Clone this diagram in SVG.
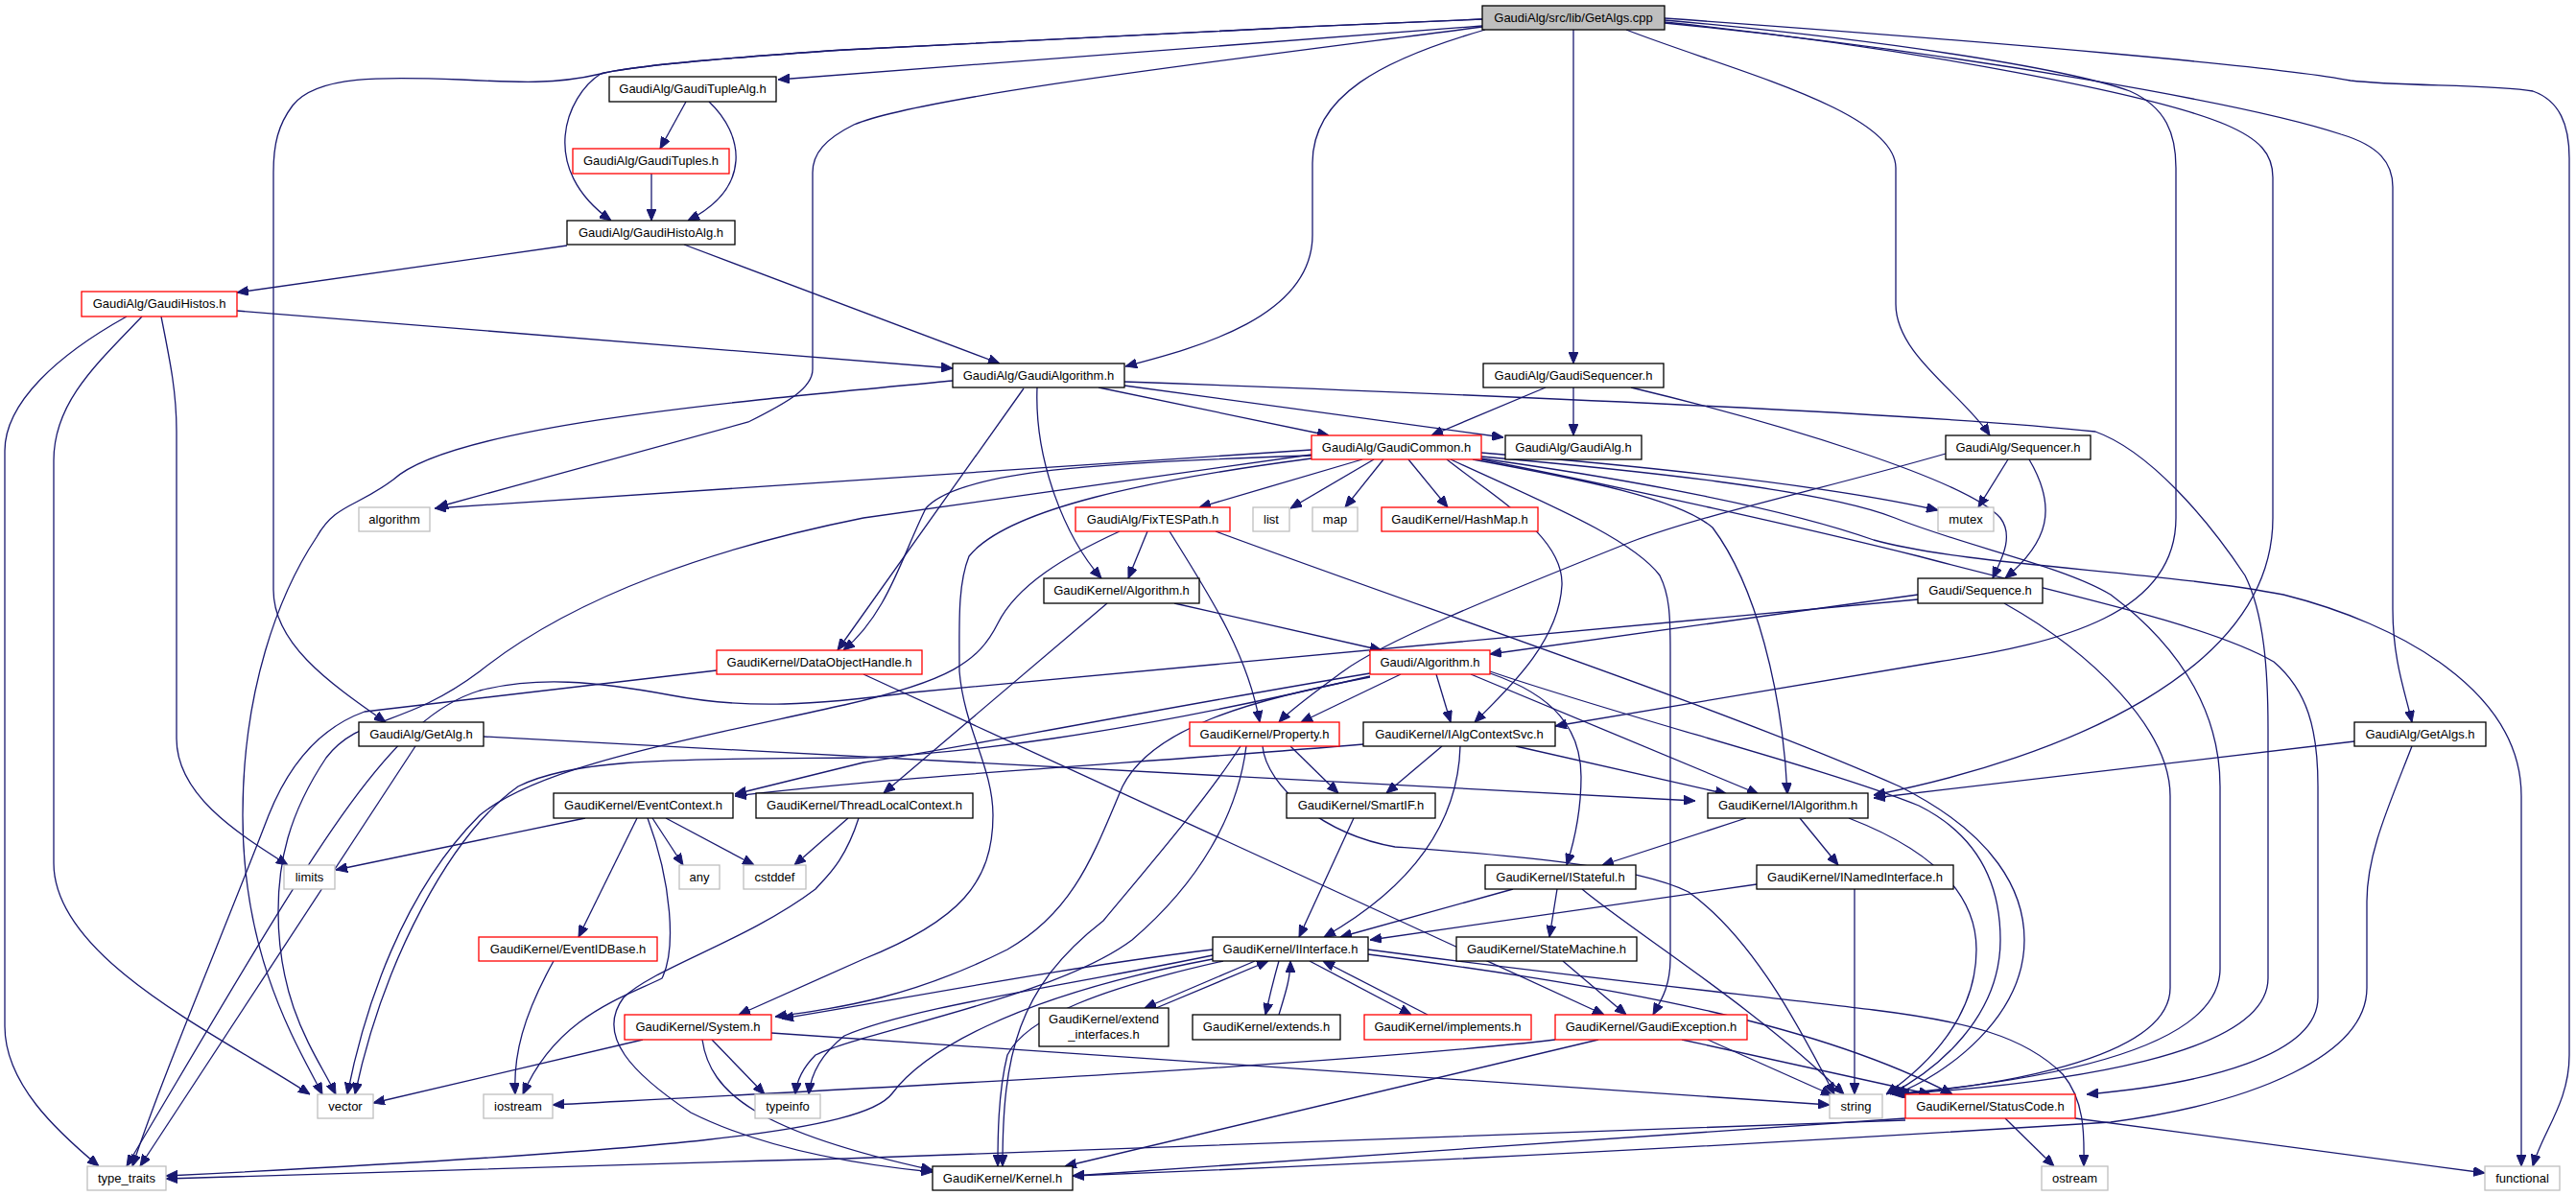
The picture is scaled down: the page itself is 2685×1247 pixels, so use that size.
<svg xmlns="http://www.w3.org/2000/svg" width="2685" height="1247" viewBox="0 0 2685 1247">
<style>
.n rect{fill:#fff;stroke:#000;stroke-width:1.3}
.n.red rect{stroke:#ff0000}
.n.sys rect{stroke:#bfbfbf}
.n.root rect{fill:#bfbfbf}
.n text{font-family:"Liberation Sans",Arial,sans-serif;font-size:13px;text-anchor:middle;fill:#000}
#edges path{fill:none;stroke:#191970;stroke-width:1.3;marker-end:url(#arr)}
</style>
<defs>
<marker id="arr" markerUnits="userSpaceOnUse" markerWidth="12" markerHeight="10" viewBox="0 0 12 10" refX="12" refY="5" orient="auto">
<path d="M0,0 L12,5 L0,10 z" fill="#191970" stroke="#191970"/>
</marker>
</defs>
<rect width="2685" height="1247" fill="#fff"/>
<g id="edges">
<path d="M1545,27 L811,83"/>
<path d="M1545,20 C1300,30 1000,45 880,52 C760,60 660,68 626,77 C590,100 560,175 637,230"/>
<path d="M1545,20 C1300,30 1000,45 880,52 C760,60 660,68 626,77 C580,88 540,86 480,83 C400,80 330,78 305,110 C290,130 285,150 285,180 L285,615 C285,670 340,710 402,753"/>
<path d="M1545,28 C1300,60 960,100 890,130 C860,145 847,160 847,180 L847,385 C847,405 820,420 780,440 L455,529"/>
<path d="M1548,31 C1440,62 1368,100 1368,170 L1368,245 C1368,330 1250,362 1173,382"/>
<path d="M1640,31 L1640,379"/>
<path d="M1695,31 C1800,72 1976,115 1976,175 L1976,317 C1976,370 2045,410 2074,454"/>
<path d="M1735,21 C1950,40 2150,70 2220,95 C2258,112 2268,140 2268,175 L2268,540 C2268,640 2150,670 2020,690 L1621,757"/>
<path d="M1735,23 C2000,50 2250,100 2320,130 C2355,145 2369,160 2369,185 L2369,540 C2369,700 2150,790 1953,829"/>
<path d="M1735,24 C2050,55 2350,110 2440,140 C2480,152 2494,170 2494,195 L2494,635 C2494,690 2508,725 2514,753"/>
<path d="M1735,19 C2100,45 2380,70 2450,84 C2500,90 2600,88 2640,95 C2668,105 2678,130 2678,165 L2678,1100 C2678,1150 2650,1180 2640,1216"/>
<path d="M715,106 L688,155"/>
<path d="M739,106 C775,140 785,195 717,230"/>
<path d="M679,181 L679,230"/>
<path d="M591,256 L247,305"/>
<path d="M713,255 L1042,379"/>
<path d="M247,324 L993,384"/>
<path d="M132,330 C60,370 5,420 5,470 L5,1070 C5,1130 60,1180 103,1216"/>
<path d="M148,330 C100,380 56,420 56,480 L56,900 C56,1000 230,1080 323,1141"/>
<path d="M168,330 C178,380 184,410 184,450 L184,770 C184,830 250,870 300,902"/>
<path d="M1145,404 L1385,454"/>
<path d="M1172,402 L1567,456"/>
<path d="M1081,404 C1078,480 1110,560 1148,603"/>
<path d="M1067,405 L873,678"/>
<path d="M993,397 C750,420 470,445 410,500 C370,530 350,525 330,560 C290,620 253,720 253,850 C253,1000 310,1090 336,1141"/>
<path d="M1172,398 C1500,410 2000,430 2184,450 C2240,470 2300,540 2340,600 C2360,640 2364,700 2364,760 L2364,1020 C2364,1100 2150,1130 1975,1141"/>
<path d="M1611,404 L1492,454"/>
<path d="M1640,404 L1640,454"/>
<path d="M1700,404 C1850,440 2050,500 2085,540 C2100,560 2085,585 2077,603"/>
<path d="M1367,469 L453,530"/>
<path d="M1367,474 L900,540 C750,570 600,620 500,700 C420,760 375,745 340,790 C300,850 290,900 290,950 C290,1050 330,1100 350,1141"/>
<path d="M1367,475 C1150,482 1000,490 965,530 C940,580 925,640 879,678"/>
<path d="M1367,478 C1200,500 1050,530 1010,580 C998,610 1000,650 1000,700 C1005,760 1035,800 1035,850 C1035,920 1000,960 900,1000 L770,1058"/>
<path d="M1420,479 L1250,529"/>
<path d="M1432,479 L1345,530"/>
<path d="M1442,479 L1402,529"/>
<path d="M1468,479 L1509,529"/>
<path d="M1508,479 C1560,520 1630,560 1628,610 C1625,670 1570,720 1537,753"/>
<path d="M1512,479 C1600,520 1700,560 1730,600 C1740,620 1741,640 1741,680 L1741,1000 C1741,1030 1730,1045 1723,1058"/>
<path d="M1544,472 C1700,485 1900,505 2020,532"/>
<path d="M1544,476 C1700,490 1900,510 1975,540 C2050,570 2150,590 2200,620 C2280,680 2314,750 2314,820 L2314,1010 C2314,1090 2150,1125 1972,1141"/>
<path d="M1544,478 C1700,500 1860,530 1953,563 C2050,590 2250,595 2380,620 C2500,650 2628,720 2628,830 L2628,1216"/>
<path d="M1544,479 C1700,510 1880,550 2000,580 C2150,620 2300,650 2370,690 C2405,720 2416,760 2416,820 L2416,1040 C2416,1100 2300,1130 2175,1141"/>
<path d="M1535,479 C1650,500 1750,520 1785,550 C1830,610 1858,720 1863,828"/>
<path d="M1196,554 L1176,603"/>
<path d="M1219,554 C1260,620 1300,680 1313,753"/>
<path d="M1167,554 C1110,580 1060,610 1040,650 C1020,690 990,710 880,735 C700,775 560,800 500,850 C420,930 380,1050 362,1141"/>
<path d="M1267,554 C1500,640 1800,740 1980,820 C2080,870 2110,930 2110,980 C2110,1060 2030,1120 1975,1141"/>
<path d="M1224,629 L1440,678"/>
<path d="M1154,629 L921,827"/>
<path d="M1999,620 L1553,682"/>
<path d="M1999,625 L950,722 C850,735 780,740 700,725 C620,710 560,705 500,720 C400,750 320,900 132,1216"/>
<path d="M2089,629 C2180,680 2262,760 2262,830 L2262,1030 C2262,1100 2100,1130 1978,1141"/>
<path d="M2093,479 L2062,529"/>
<path d="M2115,479 C2145,530 2135,565 2090,603"/>
<path d="M2028,473 C1900,510 1780,535 1700,565 C1550,625 1440,670 1400,700 C1370,722 1345,740 1333,753"/>
<path d="M900,703 L1672,1058"/>
<path d="M747,699 L380,742 C330,760 300,800 280,850 C230,980 170,1120 138,1216"/>
<path d="M1460,703 L1356,753"/>
<path d="M1497,703 L1512,753"/>
<path d="M1533,703 L1833,828"/>
<path d="M1553,700 C1700,750 1900,800 2000,840 C2060,870 2085,920 2085,980 C2085,1060 2020,1115 1970,1141"/>
<path d="M1553,702 C1620,725 1648,760 1648,810 C1648,850 1640,880 1633,902"/>
<path d="M1428,702 C1200,740 1000,780 900,795 L766,828"/>
<path d="M1428,705 C1150,770 1000,785 900,790 C700,792 600,790 540,820 C470,870 400,1000 370,1141"/>
<path d="M1428,706 C1300,730 1200,760 1170,820 C1140,890 1120,950 1050,990 C950,1040 880,1050 808,1060"/>
<path d="M1345,778 L1395,827"/>
<path d="M1316,778 C1320,820 1380,870 1454,883 C1550,890 1700,900 1760,930 C1830,980 1880,1080 1912,1141"/>
<path d="M1299,778 C1290,850 1250,920 1180,980 C1100,1040 900,1075 850,1100 C835,1115 830,1130 829,1141"/>
<path d="M1293,778 C1260,830 1200,900 1150,960 C1060,1030 1045,1100 1045,1216"/>
<path d="M1421,776 C1200,795 950,808 766,830"/>
<path d="M1503,778 L1445,827"/>
<path d="M1522,778 C1520,850 1480,920 1380,977"/>
<path d="M1580,778 L1800,828"/>
<path d="M504,768 L1767,835"/>
<path d="M433,778 L146,1216"/>
<path d="M2454,773 L1953,832"/>
<path d="M2514,778 C2490,840 2467,890 2467,940 L2467,1030 C2467,1100 2350,1150 2200,1170 C1800,1195 1400,1215 1118,1226"/>
<path d="M610,853 L350,907"/>
<path d="M680,853 L712,902"/>
<path d="M694,853 L786,902"/>
<path d="M664,853 L603,977"/>
<path d="M675,853 C700,920 705,990 690,1020 C650,1040 580,1060 545,1141"/>
<path d="M884,853 L828,902"/>
<path d="M895,853 C880,900 860,915 850,927 C780,980 680,1010 650,1040 C620,1080 660,1120 720,1160 C800,1200 900,1215 972,1222"/>
<path d="M1411,853 L1354,977"/>
<path d="M1820,853 L1670,902"/>
<path d="M1876,853 L1916,902"/>
<path d="M1927,853 C2010,885 2060,930 2060,990 C2060,1060 2010,1110 1966,1141"/>
<path d="M1577,927 L1397,977"/>
<path d="M1623,927 L1615,977"/>
<path d="M1649,927 C1700,970 1830,1050 1922,1141"/>
<path d="M1831,922 L1428,980"/>
<path d="M1933,927 L1933,1141"/>
<path d="M577,1002 C545,1060 535,1100 537,1141"/>
<path d="M1308,1002 L1193,1051"/>
<path d="M1205,1051 L1322,1002"/>
<path d="M1333,1002 C1325,1030 1322,1045 1319,1058"/>
<path d="M1333,1058 C1340,1035 1345,1020 1345,1002"/>
<path d="M1365,1002 L1471,1058"/>
<path d="M1488,1058 L1379,1002"/>
<path d="M1264,990 C1100,1010 950,1040 815,1062"/>
<path d="M1264,996 C1100,1030 950,1050 880,1080 C855,1100 845,1120 843,1141"/>
<path d="M1275,1002 C1150,1030 1070,1060 1050,1100 C1040,1140 1040,1190 1040,1216"/>
<path d="M1264,1000 C1050,1040 960,1100 930,1140 C900,1180 700,1200 173,1226"/>
<path d="M1426,995 C1700,1030 1900,1070 2035,1141"/>
<path d="M1426,990 C1650,1020 1850,1040 1953,1053 C2050,1065 2110,1080 2150,1120 C2175,1150 2172,1190 2172,1216"/>
<path d="M1629,1002 L1695,1058"/>
<path d="M670,1084 L389,1150"/>
<path d="M742,1084 L797,1141"/>
<path d="M804,1077 L1907,1152"/>
<path d="M732,1084 C740,1140 790,1180 972,1220"/>
<path d="M1621,1084 C1400,1110 900,1135 576,1152"/>
<path d="M1666,1084 L1110,1216"/>
<path d="M1780,1084 L1910,1142"/>
<path d="M1753,1084 L2012,1141"/>
<path d="M2090,1166 L2141,1216"/>
<path d="M2163,1166 L2590,1223"/>
<path d="M1986,1166 L1118,1226"/>
<path d="M1986,1168 C1500,1185 1000,1205 880,1208 C600,1215 300,1225 173,1229"/>
</g>
<g id="n_root" class="n root"><rect x="1545" y="6" width="190" height="25"/><text x="1640" y="23">GaudiAlg/src/lib/GetAlgs.cpp</text></g>
<g id="n_tuplealg" class="n"><rect x="635" y="80" width="174" height="26"/><text x="722" y="97">GaudiAlg/GaudiTupleAlg.h</text></g>
<g id="n_tuples" class="n red"><rect x="597" y="155" width="163" height="26"/><text x="678.5" y="172">GaudiAlg/GaudiTuples.h</text></g>
<g id="n_histoalg" class="n"><rect x="591" y="230" width="175" height="25"/><text x="678.5" y="247">GaudiAlg/GaudiHistoAlg.h</text></g>
<g id="n_histos" class="n red"><rect x="85" y="304" width="162" height="26"/><text x="166" y="321">GaudiAlg/GaudiHistos.h</text></g>
<g id="n_gaudialgorithm" class="n"><rect x="993" y="379" width="179" height="25"/><text x="1082.5" y="396">GaudiAlg/GaudiAlgorithm.h</text></g>
<g id="n_gaudisequencer" class="n"><rect x="1546" y="379" width="188" height="25"/><text x="1640" y="396">GaudiAlg/GaudiSequencer.h</text></g>
<g id="n_gaudicommon" class="n red"><rect x="1367" y="454" width="177" height="25"/><text x="1455.5" y="471">GaudiAlg/GaudiCommon.h</text></g>
<g id="n_gaudialg" class="n"><rect x="1569" y="454" width="142" height="25"/><text x="1640" y="471">GaudiAlg/GaudiAlg.h</text></g>
<g id="n_sequencer" class="n"><rect x="2028" y="454" width="151" height="25"/><text x="2103.5" y="471">GaudiAlg/Sequencer.h</text></g>
<g id="n_algorithm_std" class="n sys"><rect x="374" y="529" width="74" height="25"/><text x="411" y="546">algorithm</text></g>
<g id="n_fixtespath" class="n red"><rect x="1121" y="529" width="161" height="25"/><text x="1201.5" y="546">GaudiAlg/FixTESPath.h</text></g>
<g id="n_list" class="n sys"><rect x="1306" y="529" width="38" height="25"/><text x="1325" y="546">list</text></g>
<g id="n_map" class="n sys"><rect x="1368" y="529" width="47" height="25"/><text x="1391.5" y="546">map</text></g>
<g id="n_hashmap" class="n red"><rect x="1440" y="529" width="163" height="25"/><text x="1521.5" y="546">GaudiKernel/HashMap.h</text></g>
<g id="n_mutex" class="n sys"><rect x="2020" y="529" width="58" height="25"/><text x="2049" y="546">mutex</text></g>
<g id="n_gk_algorithm" class="n"><rect x="1088" y="603" width="162" height="26"/><text x="1169" y="620">GaudiKernel/Algorithm.h</text></g>
<g id="n_sequence" class="n"><rect x="1999" y="603" width="130" height="26"/><text x="2064" y="620">Gaudi/Sequence.h</text></g>
<g id="n_dataobjecthandle" class="n red"><rect x="747" y="678" width="214" height="25"/><text x="854" y="695">GaudiKernel/DataObjectHandle.h</text></g>
<g id="n_gaudi_algorithm" class="n red"><rect x="1428" y="678" width="125" height="25"/><text x="1490.5" y="695">Gaudi/Algorithm.h</text></g>
<g id="n_getalg" class="n"><rect x="374" y="753" width="130" height="25"/><text x="439" y="770">GaudiAlg/GetAlg.h</text></g>
<g id="n_property" class="n red"><rect x="1240" y="753" width="156" height="25"/><text x="1318" y="770">GaudiKernel/Property.h</text></g>
<g id="n_ialgcontextsvc" class="n"><rect x="1421" y="753" width="200" height="25"/><text x="1521" y="770">GaudiKernel/IAlgContextSvc.h</text></g>
<g id="n_getalgs_h" class="n"><rect x="2454" y="753" width="137" height="25"/><text x="2522.5" y="770">GaudiAlg/GetAlgs.h</text></g>
<g id="n_eventcontext" class="n"><rect x="577" y="827" width="187" height="26"/><text x="670.5" y="844">GaudiKernel/EventContext.h</text></g>
<g id="n_threadlocalcontext" class="n"><rect x="788" y="827" width="226" height="26"/><text x="901" y="844">GaudiKernel/ThreadLocalContext.h</text></g>
<g id="n_smartif" class="n"><rect x="1341" y="827" width="155" height="26"/><text x="1418.5" y="844">GaudiKernel/SmartIF.h</text></g>
<g id="n_ialgorithm" class="n"><rect x="1780" y="827" width="167" height="26"/><text x="1863.5" y="844">GaudiKernel/IAlgorithm.h</text></g>
<g id="n_limits" class="n sys"><rect x="296" y="902" width="53" height="25"/><text x="322.5" y="919">limits</text></g>
<g id="n_any" class="n sys"><rect x="708" y="902" width="42" height="25"/><text x="729" y="919">any</text></g>
<g id="n_cstddef" class="n sys"><rect x="775" y="902" width="65" height="25"/><text x="807.5" y="919">cstddef</text></g>
<g id="n_istateful" class="n"><rect x="1548" y="902" width="157" height="25"/><text x="1626.5" y="919">GaudiKernel/IStateful.h</text></g>
<g id="n_inamedinterface" class="n"><rect x="1831" y="902" width="205" height="25"/><text x="1933.5" y="919">GaudiKernel/INamedInterface.h</text></g>
<g id="n_eventidbase" class="n red"><rect x="499" y="977" width="186" height="25"/><text x="592" y="994">GaudiKernel/EventIDBase.h</text></g>
<g id="n_iinterface" class="n"><rect x="1264" y="977" width="162" height="25"/><text x="1345" y="994">GaudiKernel/IInterface.h</text></g>
<g id="n_statemachine" class="n"><rect x="1518" y="977" width="188" height="25"/><text x="1612" y="994">GaudiKernel/StateMachine.h</text></g>
<g id="n_system" class="n red"><rect x="651" y="1058" width="153" height="26"/><text x="727.5" y="1075">GaudiKernel/System.h</text></g>
<g id="n_extend_interfaces" class="n"><rect x="1083" y="1051" width="135" height="40"/><text x="1150.5" y="1067">GaudiKernel/extend</text><text x="1150.5" y="1083">_interfaces.h</text></g>
<g id="n_extends" class="n"><rect x="1243" y="1058" width="154" height="26"/><text x="1320" y="1075">GaudiKernel/extends.h</text></g>
<g id="n_implements" class="n red"><rect x="1422" y="1058" width="174" height="26"/><text x="1509" y="1075">GaudiKernel/implements.h</text></g>
<g id="n_gaudiexception" class="n red"><rect x="1621" y="1058" width="200" height="26"/><text x="1721" y="1075">GaudiKernel/GaudiException.h</text></g>
<g id="n_vector" class="n sys"><rect x="331" y="1141" width="58" height="25"/><text x="360" y="1158">vector</text></g>
<g id="n_iostream" class="n sys"><rect x="504" y="1141" width="72" height="25"/><text x="540" y="1158">iostream</text></g>
<g id="n_typeinfo" class="n sys"><rect x="787" y="1141" width="68" height="25"/><text x="821" y="1158">typeinfo</text></g>
<g id="n_string" class="n sys"><rect x="1907" y="1141" width="55" height="25"/><text x="1934.5" y="1158">string</text></g>
<g id="n_statuscode" class="n red"><rect x="1986" y="1141" width="177" height="25"/><text x="2074.5" y="1158">GaudiKernel/StatusCode.h</text></g>
<g id="n_type_traits" class="n sys"><rect x="91" y="1216" width="82" height="25"/><text x="132" y="1233">type_traits</text></g>
<g id="n_kernel" class="n"><rect x="972" y="1216" width="146" height="25"/><text x="1045" y="1233">GaudiKernel/Kernel.h</text></g>
<g id="n_ostream" class="n sys"><rect x="2128" y="1216" width="69" height="25"/><text x="2162.5" y="1233">ostream</text></g>
<g id="n_functional" class="n sys"><rect x="2590" y="1216" width="78" height="25"/><text x="2629" y="1233">functional</text></g>
</svg>
